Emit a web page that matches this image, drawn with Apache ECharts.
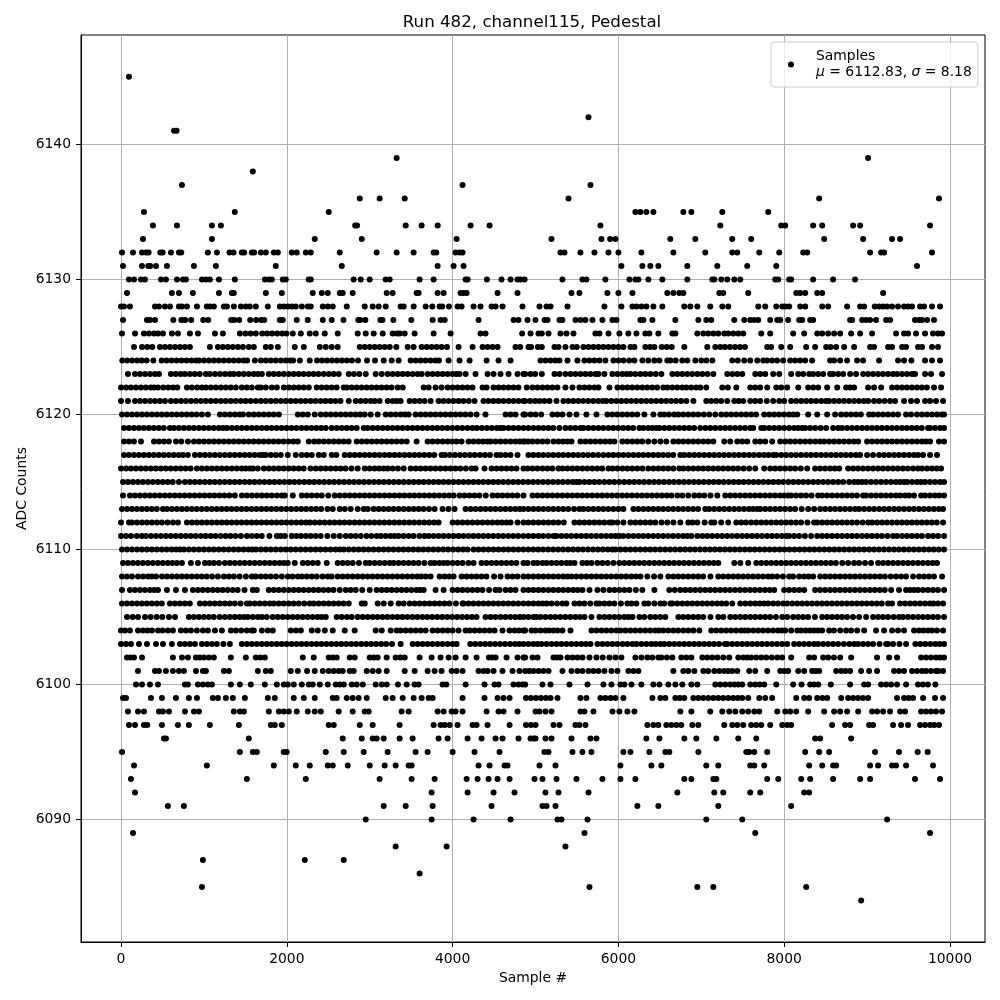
<!DOCTYPE html>
<html>
<head>
<meta charset="utf-8">
<title>Run 482, channel115, Pedestal</title>
<script src="https://cdn.jsdelivr.net/npm/echarts@6/dist/echarts.min.js"></script>
<style>
html,body{margin:0;padding:0;background:#fff;}
#chart{width:1000px;height:1000px;}
</style>
</head>
<body>
<div id="chart"></div>
<script>
var xTicks = [0,2000,4000,6000,8000,10000];
var yTicks = [6090,6100,6110,6120,6130,6140];

// sample numbers, one list per ADC level
var at6145 = [96];
var at6142 = [5639];
var at6141 = [640,670];
var at6139 = [3325,9012];
var at6138 = [1590];
var at6137 = [735,4120,5663];
var at6136 = [2880,3120,3422,5398,8422,9867];
var at6135 = [277,1373,2506,6205,6265,6337,6422,6783,6880,7253,7807];
var at6134 = [385,675,1096,1205,2825,2848,3434,3626,3820,4217,4446,5783,7229,7964,8012,8349,8458,8831,8916,9759];
var at6133 = [265,1096,2337,2904,4048,5193,5795,5900,5964,6626,6928,7373,7602,8482,8952,9301,9398];
var at6132 = [12,145,253,301,333,474,502,602,699,727,1048,1157,1309,1357,1458,1486,1578,1606,1687,1747,1843,1892,2060,2120,2229,2289,2639,3084,3325,3530,3771,3803,4036,4084,4120,5301,5349,5542,5711,5880,6000,6277,6663,7048,7373,7434,7699,7940,8229,8277,9036,9169,9205,9783];
var at6131 = [24,253,329,353,422,554,880,1145,1867,2663,3819,4012,4132,6036,6289,6385,6482,6831,7193,7554,7904,9602];
var at6130 = [96,157,241,289,482,542,675,747,783,976,1024,1072,1181,1373,1735,1783,1819,1952,1988,2265,2289,2807,2892,3000,3193,3241,3602,3771,4157,4181,4414,4590,4699,4783,4819,4868,5325,5566,5614,5843,6133,6205,6241,6361,6530,6831,7133,7157,7241,7313,7398,7470,7892,7928,8060,8084,8349,8590,8855];
var at6129 = [72,614,699,867,1181,1337,1361,1747,1940,2313,2422,2494,2639,2675,2795,3205,3277,3566,3590,3819,3892,4096,4132,4169,4542,4783,5434,5530,5867,6000,6169,6590,6663,6735,6783,7217,7265,7566,8145,8193,8253,8398,8458,9193];
var at6128 = [0,36,108,410,458,530,590,699,735,795,916,1036,1072,1120,1241,1277,1361,1446,1506,1554,1626,1771,1916,1964,2012,2060,2108,2181,2253,2289,2434,2494,2554,2723,2940,3036,3108,3193,3373,3410,3530,3675,3755,3843,3875,3956,4060,4108,4253,4337,4470,4518,4602,4843,5048,5133,5181,5386,5831,6036,6169,6217,6277,6337,6422,6530,6795,6867,6952,7108,7253,7325,7687,7771,7904,7976,8012,8060,8193,8253,8458,8530,8759,8916,8964,9092,9145,9193,9241,9301,9373,9446,9494,9542,9639,9687,9783,9880];
var at6127 = [24,313,349,410,631,727,775,847,992,1052,1329,1365,1426,1558,1630,1690,1727,1916,1952,2120,2253,2434,2542,2683,2863,2887,2948,3129,3153,3285,3502,3759,3855,3904,4313,4735,4795,4904,5000,5108,5145,5289,5325,5482,5542,5602,5687,5807,5928,5976,6265,6301,6410,6687,6964,7060,7120,7398,7518,7590,7639,7687,7831,7916,7952,8048,8181,8217,8313,8349,8795,8819,8940,8988,9036,9108,9229,9277,9578,9627,9663,9723,9807];
var at6126 = [12,169,277,337,398,446,506,614,687,831,928,1133,1229,1434,1502,1562,1626,1703,1763,1823,1884,1944,1996,2072,2169,2277,2349,2458,2614,2855,2952,3048,3157,3277,3329,3361,3422,3542,3771,3976,4337,4397,4839,4940,5036,5076,5157,5301,5373,5458,5723,5771,5880,6012,6120,6217,6325,6373,6482,6651,6687,6952,7024,7084,7145,7205,7277,7325,7386,7446,7506,7723,7831,8108,8241,8398,8458,8530,8602,8675,8807,8916,9060,9349,9446,9494,9590,9699,9795,9855,9904];
var at6125 = [157,253,317,378,470,530,590,651,711,771,831,1072,1169,1229,1289,1349,1410,1470,1542,1602,1747,1807,1892,2096,2205,2398,2470,2542,2614,2880,2940,3000,3060,3120,3181,3241,3321,3458,3530,3626,3687,3747,3807,3867,3932,4072,4241,4361,4422,4482,4542,4759,4815,4915,4947,5028,5076,5229,5277,5361,5446,5498,5578,5639,5699,5759,5819,5880,5940,6000,6060,6145,6193,6325,6382,6434,6522,6582,6643,6795,7072,7169,7229,7285,7345,7406,7466,7526,7795,7843,7964,8072,8265,8373,8506,8558,8626,8723,8843,9036,9084,9253,9301,9422,9470,9614,9663,9783,9855];
var at6124 = [16,75,135,195,250,309,390,490,550,610,670,730,790,850,905,940,1000,1060,1120,1180,1240,1300,1360,1420,1480,1522,1614,1687,1747,1807,1867,1927,1987,2040,2076,2157,2277,2365,2425,2485,2545,2605,2665,2725,2785,2859,2968,3064,3169,3265,3349,3494,3554,3614,3674,3734,3794,3835,3952,4084,4205,4410,4554,4699,5060,5120,5180,5240,5289,5386,5506,5590,5650,5710,5771,5843,5940,6000,6060,6130,6193,6289,6361,6434,6494,6590,6627,6690,6770,6831,6928,7000,7060,7133,7373,7440,7518,7590,7675,7747,7795,7855,7915,7988,8072,8132,8192,8252,8337,8554,8602,8675,8759,8880,8952,9145,9373,9446,9534,9699,9783,9880];
var at6123 = [84,169,230,290,350,410,458,602,660,720,771,831,890,950,1024,1072,1135,1195,1255,1313,1361,1421,1481,1541,1601,1650,1699,1783,1843,1903,1963,2023,2083,2143,2203,2263,2323,2383,2446,2506,2566,2626,2747,2810,2875,2952,3072,3145,3217,3277,3337,3397,3457,3517,3577,3626,3699,3759,3819,3879,3939,3999,4045,4084,4157,4277,4422,4494,4578,4675,4783,4855,4875,4940,4996,5076,5229,5290,5361,5422,5482,5542,5602,5662,5722,5759,5831,5928,5988,6048,6100,6145,6205,6265,6325,6385,6450,6518,6651,6711,6771,6831,6890,6952,7012,7075,7145,7313,7375,7434,7494,7651,7711,7771,7867,7940,8084,8169,8230,8301,8349,8410,8470,8554,8590,8651,8711,8795,8867,8952,9012,9072,9132,9192,9252,9313,9361,9421,9481,9541,9578,9699,9771,9904];
var at6122 = [0,60,120,180,240,300,360,398,446,510,570,628,679,795,855,920,976,1024,1084,1144,1204,1264,1324,1385,1458,1518,1578,1651,1687,1747,1819,1880,1964,2024,2084,2144,2204,2265,2361,2421,2481,2541,2601,2687,2723,2783,2843,2903,2963,3023,3083,3143,3203,3263,3337,3398,3651,3711,3795,3867,3940,4000,4060,4120,4180,4240,4361,4410,4494,4554,4614,4674,4734,4794,4895,4964,5024,5084,5144,5204,5264,5361,5446,5530,5590,5650,5711,5759,5892,5988,6048,6108,6168,6228,6288,6348,6408,6468,6542,6590,6650,6710,6771,6819,6879,6939,6988,7060,7253,7320,7422,7590,7650,7710,7795,7904,7964,8036,8169,8289,8350,8410,8518,8639,8747,8795,8843,9012,9084,9169,9301,9361,9421,9481,9541,9601,9661,9721,9807,9892];
var at6121 = [0,84,169,230,290,350,410,470,530,602,663,723,783,843,903,963,1023,1083,1143,1203,1263,1323,1383,1443,1503,1563,1626,1687,1747,1807,1867,1927,1987,2047,2107,2167,2227,2287,2347,2407,2467,2527,2587,2647,2747,2831,2891,2951,3011,3060,3120,3217,3277,3325,3373,3482,3542,3602,3662,3735,3831,3891,3951,4011,4071,4131,4195,4265,4373,4433,4493,4553,4613,4675,4735,4795,4855,4875,4935,4995,5048,5108,5169,5253,5337,5397,5457,5517,5577,5637,5697,5757,5810,5855,5916,5976,6036,6096,6156,6216,6276,6336,6396,6456,6516,6576,6636,6696,6756,6819,6904,7060,7120,7180,7240,7313,7398,7450,7506,7590,7650,7710,7790,7867,7940,8000,8084,8145,8205,8265,8325,8385,8445,8500,8542,8602,8662,8722,8782,8842,8902,8962,9012,9084,9144,9210,9277,9337,9446,9530,9602,9699,9759,9831,9916];
var at6120 = [12,72,132,192,252,312,372,432,492,552,612,672,732,792,852,912,976,1048,1193,1253,1313,1373,1430,1470,1542,1602,1662,1722,1782,1842,1904,2133,2193,2253,2337,2410,2470,2530,2590,2650,2710,2770,2830,2885,2940,3012,3096,3193,3253,3313,3373,3425,3470,3554,3614,3674,3734,3794,3854,3914,3974,4034,4094,4154,4217,4289,4397,4639,4699,4759,4855,4875,4940,5000,5068,5205,5265,5325,5410,5494,5614,5735,5867,5927,5987,6047,6107,6167,6227,6313,6422,6506,6554,6610,6675,6723,6783,6843,6903,6963,7030,7096,7169,7241,7301,7361,7421,7481,7541,7601,7661,7759,7819,7879,7939,7999,8059,8110,8157,8289,8398,8518,8614,8687,8747,8807,8867,8924,9024,9072,9132,9192,9252,9312,9373,9470,9530,9602,9663,9723,9783,9843,9900,9928];
var at6119 = [36,96,156,216,276,336,396,456,516,590,639,699,759,819,879,939,999,1059,1119,1179,1230,1277,1337,1397,1457,1517,1577,1637,1697,1757,1817,1877,1937,1997,2057,2117,2177,2237,2297,2357,2415,2470,2542,2602,2662,2722,2782,2843,2928,2976,3036,3096,3156,3216,3276,3336,3396,3456,3516,3576,3636,3696,3756,3816,3876,3936,3996,4056,4116,4180,4241,4293,4353,4413,4473,4533,4578,4614,4674,4734,4794,4855,4915,4975,5035,5095,5155,5215,5289,5361,5421,5480,5542,5578,5638,5698,5758,5818,5878,5938,5998,6058,6118,6178,6253,6301,6361,6410,6458,6494,6554,6614,6674,6734,6794,6854,6914,6988,7048,7108,7168,7228,7288,7348,7408,7468,7528,7590,7626,7723,7759,7819,7879,7939,7999,8059,8120,8170,8217,8253,8313,8373,8440,8506,8590,8651,8699,8759,8819,8879,8939,8999,9059,9119,9179,9239,9299,9359,9419,9479,9539,9599,9659,9735,9759,9819,9880,9928];
var at6118 = [36,96,156,241,398,458,518,578,663,727,807,880,940,1000,1060,1120,1180,1240,1300,1360,1420,1480,1540,1600,1660,1720,1780,1840,1900,1960,2020,2080,2133,2265,2330,2385,2446,2506,2566,2626,2686,2746,2843,2904,2964,3024,3084,3144,3204,3264,3324,3385,3446,3566,3699,3759,3819,3879,3939,3995,4048,4108,4193,4253,4313,4370,4422,4458,4518,4578,4638,4698,4758,4810,4855,4875,4915,4964,5024,5084,5145,5217,5277,5335,5386,5434,5542,5602,5662,5722,5782,5842,5900,5952,6048,6108,6168,6228,6288,6360,6434,6506,6578,6663,6723,6783,6843,6903,6963,7025,7084,7145,7277,7349,7434,7494,7554,7651,7711,7771,7855,7952,8012,8072,8132,8193,8253,8313,8375,8434,8482,8542,8602,8662,8722,8782,8840,8892,9000,9060,9120,9180,9240,9300,9360,9420,9480,9540,9600,9660,9710,9759,9867,9928];
var at6117 = [36,96,156,216,276,336,396,456,516,576,636,696,747,807,892,952,1012,1072,1132,1192,1252,1312,1372,1432,1492,1552,1612,1672,1711,1747,1807,1867,1927,2012,2108,2181,2241,2301,2385,2446,2542,2598,2699,2759,2819,2879,2939,2999,3059,3119,3179,3239,3299,3359,3419,3479,3539,3599,3659,3719,3779,3867,3908,3968,4028,4088,4148,4208,4268,4330,4390,4450,4530,4578,4638,4698,4783,4915,4975,5035,5095,5155,5215,5275,5335,5395,5455,5515,5575,5635,5695,5755,5819,5880,5940,6000,6060,6120,6181,6241,6301,6361,6421,6481,6541,6601,6661,6747,6795,6855,6915,6975,7035,7095,7155,7215,7275,7335,7395,7455,7515,7575,7635,7695,7755,7810,7867,7904,7964,8024,8084,8144,8204,8264,8324,8384,8444,8504,8564,8624,8684,8744,8804,8864,8916,9000,9072,9145,9205,9265,9325,9385,9445,9505,9565,9615,9675,9759,9843];
var at6116 = [0,60,120,180,240,300,360,420,480,540,600,660,720,780,840,916,976,1036,1096,1156,1216,1276,1336,1396,1456,1505,1554,1590,1650,1723,1783,1843,1903,1963,2023,2083,2143,2203,2285,2349,2409,2469,2529,2589,2649,2709,2780,2855,2940,3000,3060,3115,3169,3217,3277,3340,3410,3494,3554,3614,3674,3734,3794,3854,3914,3974,4034,4094,4160,4229,4277,4385,4470,4530,4590,4650,4710,4770,4855,4904,4964,5024,5084,5144,5204,5277,5325,5385,5445,5505,5565,5625,5685,5745,5805,5880,5928,5988,6048,6108,6168,6228,6290,6361,6422,6482,6542,6600,6663,6735,6783,6843,6903,6963,7023,7083,7143,7203,7263,7323,7383,7443,7510,7578,7651,7759,7831,7891,7951,8011,8071,8131,8200,8277,8373,8433,8493,8553,8610,8663,8771,8831,8891,8951,9011,9071,9131,9191,9251,9311,9371,9431,9490,9554,9614,9663,9723,9783,9840,9892];
var at6115 = [24,84,144,204,264,324,384,444,504,564,624,699,771,831,891,951,1011,1071,1131,1191,1251,1311,1371,1431,1491,1551,1611,1671,1731,1791,1851,1911,1971,2031,2091,2151,2211,2271,2331,2391,2451,2511,2571,2631,2691,2751,2811,2871,2931,2991,3051,3111,3171,3231,3291,3351,3411,3471,3531,3591,3651,3711,3771,3831,3891,3951,4011,4071,4131,4191,4251,4311,4371,4431,4491,4551,4611,4671,4731,4791,4851,4911,4971,5031,5091,5151,5211,5271,5331,5391,5450,5494,5530,5590,5650,5710,5770,5830,5890,5950,6010,6070,6130,6190,6250,6310,6370,6430,6490,6550,6610,6670,6730,6790,6850,6910,6970,7030,7090,7150,7210,7270,7330,7390,7450,7510,7570,7630,7690,7750,7810,7870,7930,7990,8050,8110,8170,8230,8290,8350,8410,8470,8530,8590,8650,8711,8783,8843,8890,8940,8988,9048,9108,9168,9228,9288,9348,9400,9446,9482,9542,9602,9650,9699,9759,9819,9879,9928];
var at6114 = [24,108,168,228,288,348,408,468,528,588,648,708,768,828,888,948,1008,1068,1128,1188,1248,1308,1373,1458,1518,1578,1638,1698,1758,1818,1880,1940,1976,2072,2181,2241,2301,2361,2421,2500,2578,2639,2699,2759,2819,2879,2939,2999,3059,3119,3179,3239,3299,3359,3419,3479,3539,3599,3659,3719,3779,3839,3899,3959,4012,4084,4144,4204,4264,4324,4400,4482,4542,4602,4662,4722,4782,4855,4964,5024,5084,5144,5204,5264,5324,5384,5444,5504,5564,5624,5684,5744,5804,5864,5924,5984,6044,6104,6164,6224,6284,6344,6404,6464,6524,6584,6640,6711,6771,6843,6916,6976,7036,7110,7193,7289,7349,7409,7469,7529,7589,7649,7709,7769,7829,7889,7949,8000,8048,8084,8144,8204,8264,8330,8410,8458,8518,8578,8638,8698,8758,8818,8878,8952,8988,9048,9108,9168,9228,9288,9348,9400,9458,9506,9566,9651,9699,9759,9819,9870,9928];
var at6113 = [12,72,132,192,252,312,372,432,506,554,614,674,734,794,854,914,974,1034,1094,1154,1214,1274,1334,1394,1454,1514,1574,1634,1694,1754,1814,1874,1934,1994,2054,2114,2174,2234,2294,2354,2414,2490,2554,2639,2699,2770,2855,2928,2976,3048,3108,3168,3228,3288,3350,3410,3470,3530,3590,3650,3715,3783,3879,3950,4024,4157,4217,4277,4337,4397,4457,4517,4577,4637,4697,4757,4810,4855,4915,4975,5035,5095,5155,5215,5275,5335,5395,5465,5530,5578,5638,5698,5758,5818,5878,5940,6000,6060,6181,6241,6301,6361,6421,6481,6541,6601,6661,6721,6781,6841,6901,6961,7048,7096,7156,7216,7276,7336,7396,7456,7516,7576,7625,7675,7711,7771,7831,7891,7951,8011,8071,8131,8210,8289,8361,8434,8494,8554,8614,8674,8734,8794,8855,8904,8964,9024,9084,9145,9205,9265,9325,9385,9445,9505,9565,9625,9685,9745,9805,9865,9916];
var at6112 = [0,96,133,193,253,313,373,433,493,560,626,687,795,855,915,975,1035,1095,1155,1215,1275,1335,1395,1455,1515,1575,1635,1695,1755,1815,1875,1935,1995,2055,2115,2175,2230,2277,2337,2397,2457,2517,2577,2637,2697,2757,2817,2877,2937,2997,3057,3117,3177,3237,3297,3357,3417,3477,3537,3597,3657,3717,3777,3831,4000,4060,4120,4180,4240,4300,4360,4420,4480,4540,4595,4650,4699,4783,4855,4915,4975,5035,5095,5155,5215,5275,5341,5470,5530,5590,5650,5710,5770,5830,5892,5928,5988,6060,6145,6205,6265,6325,6385,6445,6520,6590,6663,6747,6843,6892,6952,7040,7120,7157,7240,7325,7422,7482,7540,7602,7663,7723,7783,7843,7903,7963,8023,8083,8143,8203,8280,8361,8398,8458,8518,8578,8638,8698,8758,8818,8878,8945,9012,9060,9120,9180,9240,9300,9360,9420,9480,9540,9600,9660,9720,9780,9840,9916];
var at6111 = [0,60,120,190,253,301,361,421,481,541,601,661,721,781,841,901,961,1021,1081,1141,1201,1261,1321,1381,1446,1518,1578,1638,1698,1790,1880,1928,1976,2060,2115,2169,2229,2289,2349,2409,2490,2566,2639,2711,2771,2831,2891,2960,3020,3084,3133,3193,3250,3301,3349,3409,3469,3529,3600,3660,3711,3771,3831,3891,3951,4011,4071,4131,4191,4251,4311,4371,4431,4491,4551,4611,4671,4731,4791,4855,4915,4975,5035,5095,5155,5217,5253,5313,5373,5433,5493,5553,5613,5673,5733,5793,5853,5913,5965,6012,6060,6120,6180,6240,6300,6360,6420,6480,6540,6600,6660,6720,6780,6830,6880,6952,7012,7072,7132,7192,7252,7312,7372,7432,7492,7552,7612,7672,7732,7792,7852,7912,7970,8024,8060,8120,8180,8250,8325,8398,8458,8518,8578,8638,8698,8758,8818,8878,8938,8998,9058,9118,9178,9245,9313,9361,9421,9481,9541,9601,9661,9735,9795,9855,9928];
var at6110 = [12,72,132,192,252,312,372,432,492,552,612,665,711,759,819,879,939,999,1059,1119,1179,1239,1299,1359,1419,1479,1539,1585,1627,1687,1747,1807,1867,1927,1987,2047,2107,2167,2227,2287,2347,2407,2467,2527,2587,2639,2687,2747,2807,2867,2927,2987,3047,3107,3167,3227,3287,3347,3407,3467,3527,3587,3647,3707,3767,3827,3887,3947,4007,4067,4127,4181,4253,4313,4373,4433,4493,4553,4613,4673,4733,4793,4853,4913,4973,5033,5093,5153,5213,5273,5333,5393,5453,5513,5573,5633,5693,5753,5813,5873,5928,5964,6024,6084,6144,6204,6264,6324,6384,6444,6504,6564,6624,6684,6744,6804,6864,6924,6984,7044,7104,7164,7224,7284,7344,7404,7464,7524,7584,7644,7704,7764,7824,7884,7944,8004,8064,8124,8184,8244,8304,8364,8424,8484,8544,8604,8664,8724,8784,8844,8904,8964,9024,9084,9144,9204,9264,9324,9384,9444,9504,9564,9624,9684,9744,9804,9864,9928];
var at6109 = [24,84,144,204,264,324,384,444,504,564,620,675,735,843,928,1012,1065,1120,1181,1253,1313,1373,1433,1493,1553,1613,1673,1733,1793,1853,1913,1965,2012,2096,2193,2253,2313,2373,2482,2614,2674,2734,2794,2870,2952,3000,3060,3120,3180,3241,3289,3349,3409,3469,3529,3589,3660,3735,3783,3840,3892,3940,4000,4060,4120,4190,4253,4349,4409,4469,4529,4589,4649,4709,4769,4855,4904,4976,5024,5084,5133,5193,5253,5313,5373,5420,5470,5566,5620,5675,5747,5807,5870,5940,6012,6072,6132,6192,6252,6312,6372,6432,6492,6552,6612,6672,6732,6792,6852,6912,6972,7032,7092,7150,7205,7398,7470,7566,7663,7723,7783,7843,7903,7963,8023,8083,8143,8203,8263,8323,8383,8443,8503,8563,8623,8700,8771,8843,8903,8975,9048,9133,9193,9253,9313,9373,9433,9493,9553,9613,9673,9733,9790,9843];
var at6108 = [12,72,132,205,265,325,370,422,494,554,614,674,734,794,854,914,974,1034,1100,1169,1241,1301,1361,1430,1506,1578,1626,1686,1746,1806,1870,1940,2012,2070,2133,2181,2241,2301,2361,2430,2494,2542,2614,2674,2734,2794,2854,2914,2974,3034,3094,3154,3214,3274,3334,3394,3454,3514,3574,3620,3675,3735,3843,3903,3960,4012,4108,4168,4228,4288,4348,4408,4500,4578,4663,4723,4783,4855,4915,4975,5035,5095,5155,5215,5275,5335,5385,5434,5494,5554,5614,5674,5734,5794,5854,5914,5974,6034,6094,6154,6210,6265,6349,6430,6506,6602,6662,6722,6782,6842,6902,6962,7022,7110,7205,7265,7325,7385,7445,7505,7565,7625,7685,7745,7807,7855,7915,7985,8060,8108,8181,8241,8295,8349,8434,8494,8554,8614,8674,8734,8794,8854,8914,8974,9034,9094,9154,9214,9285,9349,9410,9470,9554,9627,9687,9745,9807,9904];
var at6107 = [12,108,168,228,288,348,400,446,554,663,771,867,927,987,1047,1107,1167,1227,1287,1347,1407,1490,1590,1638,1783,1843,1903,1963,2023,2083,2143,2203,2263,2323,2383,2443,2503,2563,2639,2711,2771,2831,2910,3000,3084,3144,3204,3264,3324,3384,3444,3504,3564,3610,3651,3795,3892,4000,4060,4120,4180,4240,4300,4360,4440,4518,4566,4639,4699,4759,4855,4915,4975,5035,5095,5155,5215,5275,5335,5395,5455,5510,5566,5651,5747,5819,5892,5952,6012,6072,6132,6210,6289,6434,6614,6680,6747,6807,6867,6927,6987,7047,7107,7167,7227,7287,7347,7407,7467,7527,7587,7647,7707,7767,7825,7880,8000,8060,8120,8180,8241,8373,8433,8493,8553,8613,8673,8733,8793,8853,8913,8973,9033,9093,9153,9213,9290,9385,9470,9518,9566,9614,9674,9734,9794,9854,9928];
var at6106 = [12,72,132,192,252,312,372,432,492,590,650,710,770,830,952,1012,1072,1132,1192,1252,1312,1372,1442,1518,1554,1614,1674,1735,1795,1843,1903,1963,2023,2083,2143,2210,2277,2325,2385,2445,2505,2565,2625,2685,2747,2904,2940,3096,3169,3253,3349,3410,3482,3542,3602,3662,3722,3782,3842,3902,3962,4040,4120,4132,4192,4252,4312,4372,4432,4492,4552,4612,4672,4732,4792,4855,4915,4975,5035,5085,5133,5193,5260,5325,5373,5470,5530,5590,5660,5735,5771,5831,5891,5951,6030,6108,6157,6217,6313,6361,6434,6506,6554,6627,6651,6711,6771,6831,6891,6951,7011,7071,7131,7191,7245,7301,7373,7470,7530,7590,7650,7705,7759,7807,7867,7925,7988,8036,8096,8156,8216,8276,8336,8396,8456,8516,8576,8636,8696,8756,8816,8876,8936,8996,9056,9116,9176,9253,9301,9398,9458,9518,9578,9638,9698,9758,9800,9855,9916];
var at6105 = [72,140,205,289,357,430,498,578,651,819,879,939,999,1059,1119,1190,1253,1313,1373,1430,1482,1530,1590,1650,1700,1759,1831,1891,1951,2011,2071,2131,2191,2251,2311,2371,2420,2470,2602,2662,2725,2783,2855,2915,2975,3035,3095,3155,3215,3275,3335,3395,3455,3515,3575,3635,3695,3755,3815,3875,3935,3995,4055,4115,4175,4235,4289,4397,4457,4517,4577,4637,4697,4757,4810,4855,4915,4975,5011,5060,5120,5180,5240,5300,5360,5420,5480,5535,5590,5675,5771,5831,5891,5951,6011,6071,6120,6169,6253,6313,6385,6445,6505,6566,6723,6783,6843,6903,6963,7023,7110,7205,7265,7349,7410,7470,7530,7590,7650,7710,7770,7830,7900,7976,8036,8108,8168,8228,8288,8370,8458,8518,8578,8638,8698,8758,8830,8904,8988,9072,9132,9192,9252,9320,9385,9434,9494,9554,9614,9674,9734,9794,9854,9928];
var at6104 = [0,48,108,205,265,320,373,446,500,566,626,723,783,843,915,988,1048,1133,1217,1325,1385,1450,1518,1578,1602,1699,1771,1831,2048,2110,2169,2301,2373,2458,2554,2699,2819,3072,3145,3253,3325,3373,3434,3494,3555,3614,3675,3759,3819,3880,3940,4000,4072,4157,4205,4265,4325,4385,4446,4506,4602,4687,4747,4800,4855,4875,4952,5000,5060,5120,5165,5217,5265,5325,5422,5675,5735,5795,5855,5915,5976,6024,6084,6144,6204,6264,6324,6384,6444,6490,6542,6602,6662,6720,6783,6843,6905,6976,7120,7180,7240,7300,7360,7420,7480,7525,7566,7626,7686,7746,7806,7866,7926,7970,8012,8084,8157,8205,8260,8313,8361,8410,8458,8542,8600,8675,8747,8807,8880,8964,9108,9205,9301,9373,9446,9566,9626,9680,9735,9783,9843,9916];
var at6103 = [0,60,120,217,313,422,506,614,711,771,830,892,976,1036,1096,1156,1235,1313,1458,1518,1578,1638,1698,1758,1818,1878,1938,1998,2058,2118,2178,2238,2298,2358,2418,2478,2538,2598,2658,2718,2778,2838,2898,2958,3018,3078,3138,3198,3269,3373,3518,3578,3638,3698,3758,3818,3878,3938,4000,4048,4213,4273,4333,4393,4453,4513,4573,4633,4693,4753,4805,4855,4915,4975,5025,5072,5133,5193,5253,5313,5373,5433,5493,5553,5610,5663,5747,5807,5867,5927,5987,6050,6108,6169,6217,6277,6337,6397,6450,6506,6554,6614,6674,6734,6794,6854,6914,6974,7034,7094,7154,7214,7285,7313,7373,7433,7493,7553,7613,7673,7733,7793,7853,7913,7975,8036,8120,8180,8240,8300,8361,8410,8470,8530,8590,8650,8720,8785,8843,8892,8952,9012,9072,9150,9229,9253,9313,9390,9470,9582,9642,9702,9762,9822,9875,9928];
var at6102 = [72,115,157,253,626,735,807,904,950,1000,1060,1120,1325,1506,1626,1680,1735,2193,2325,2506,2555,2602,2759,2819,3000,3050,3096,3205,3313,3370,3422,3602,3747,3855,3952,4036,4157,4289,4438,4480,4518,4651,4783,4855,4875,4964,5024,5217,5260,5301,5386,5446,5506,5566,5651,5735,5810,5892,5964,6036,6205,6277,6349,6410,6482,6518,6585,6651,6759,6820,6880,7012,7072,7132,7195,7265,7337,7446,7506,7555,7602,7663,7723,7783,7850,7916,7976,8084,8301,8361,8470,8530,8600,8675,8807,9120,9265,9361,9651,9711,9770,9831,9880,9928];
var at6101 = [205,410,458,542,626,699,759,904,988,1024,1241,1301,1651,1747,1807,2048,2133,2245,2337,2434,2506,2566,2626,2675,2759,2807,2964,3036,3108,3205,3422,3542,3699,3783,3867,3988,4048,4120,4313,4373,4422,4494,4602,4723,4807,4875,4925,4975,5036,5096,5157,5325,5434,5506,5566,5639,5699,5759,5831,5916,5988,6120,6181,6241,6663,6783,6843,6916,7024,7084,7157,7217,7277,7325,7373,7434,7578,7651,7795,7952,8000,8048,8169,8241,8337,8380,8422,8627,8687,8740,8795,8928,9024,9120,9325,9385,9446,9542,9602,9663,9711,9771,9831,9860,9916];
var at6100 = [181,253,349,446,771,807,928,988,1048,1096,1325,1434,1566,1735,1880,1964,2012,2084,2181,2265,2313,2398,2494,2590,2639,2687,2783,2843,2916,3072,3145,3205,3341,3446,3542,3590,3879,3924,4157,4385,4506,4554,4735,4795,4843,4875,5084,5181,5410,5627,5819,5916,6024,6072,6157,6277,6422,6494,6602,6687,6771,6880,6952,7169,7229,7289,7349,7400,7446,7494,7590,7650,7705,7759,7904,8108,8209,8313,8360,8410,8562,8795,8964,9012,9169,9229,9289,9361,9470,9614,9674,9734,9823];
var at6099 = [24,60,361,494,663,819,916,1108,1169,1265,1349,1494,1771,1855,2084,2205,2337,2554,2602,2723,2795,2867,2964,3193,3277,3398,3530,3626,3711,3759,4120,4385,4542,4614,4687,4885,4945,5005,5065,5125,5181,5265,5542,5614,5783,5843,5905,5964,6060,6410,6506,6566,6687,6740,6795,6904,6964,7024,7084,7144,7204,7264,7324,7384,7440,7494,7566,7699,7771,7855,8145,8241,8301,8398,8460,8518,8687,8771,8831,8891,8950,9012,9361,9446,9500,9554,9675,9819,9916];
var at6098 = [84,205,277,458,506,578,771,880,940,1361,1434,1482,1783,1904,1964,2024,2120,2253,2337,2410,2626,2795,2940,2988,3385,3470,3819,3892,3988,4036,4120,4410,4554,4614,4783,5000,5048,5120,5193,5542,5590,5699,5928,6012,6108,6193,6747,6880,7108,7253,7337,7410,7494,7566,7639,7699,7916,8012,8072,8145,8289,8482,8602,8675,8759,8892,9060,9120,9193,9277,9398,9458,9651,9711,9771,9831,9904];
var at6097 = [96,169,277,317,494,687,819,1072,1422,1807,1855,1940,2506,2566,2880,3036,3361,3771,3855,3904,3964,4060,4241,4289,4422,4687,4885,4945,5000,5217,5289,5482,5530,5602,6349,6422,6482,6578,6638,6699,6759,6892,6964,7277,7373,7434,7506,7602,7662,7723,7831,7976,8036,8084,8578,8735,8795,9024,9072,9313,9410,9494,9639,9699,9759,9810,9867];
var at6096 = [518,542,1542,2675,2904,3036,3084,3169,3361,3518,3831,3940,4181,4349,4518,4602,4795,4940,4976,5000,5120,5193,5434,5663,5735,6337,6494,6795,6940,7181,7446,7663,8373,8434,8807];
var at6095 = [12,1434,1590,1638,1964,2000,2470,2687,2928,3217,3554,3699,4000,4265,4566,5108,5157,5446,5566,5675,6060,6145,6373,6566,6614,6964,7542,7578,7639,7795,8253,8422,8542,9096,9385,9610,9731];
var at6094 = [157,1036,1843,2108,2277,2494,2554,2735,3000,3181,3313,3470,3506,4313,4446,4627,4663,5048,5241,6024,6398,6518,7060,7205,7590,7639,7759,8301,8458,8590,8627,9036,9133,9301,9349,9470,9795];
var at6093 = [120,1518,2229,3120,3506,3783,4169,4301,4434,4542,4687,4988,5084,5253,5494,5807,6024,6205,6795,6880,7145,7181,7795,7928,8205,8313,8590,8916,9036,9578,9880];
var at6092 = [169,3747,4181,4494,4747,5120,5277,5639,6711,7157,7265,7590,7711,8241,8301];
var at6091 = [566,759,3169,3434,3759,4470,5084,5133,5241,6229,6482,7205,8084];
var at6090 = [2952,3747,4253,4699,5265,5313,5627,7060,7494,9241];
var at6089 = [145,5590,7651,9759];
var at6088 = [3313,3928,5361];
var at6087 = [988,2217,2687];
var at6086 = [3602];
var at6085 = [976,5651,6952,7145,8265];
var at6084 = [8928];

var levels = [6145,6142,6141,6139,6138,6137,6136,6135,6134,6133,6132,6131,6130,6129,6128,6127,6126,6125,6124,6123,6122,6121,6120,6119,6118,6117,6116,6115,6114,6113,6112,6111,6110,6109,6108,6107,6106,6105,6104,6103,6102,6101,6100,6099,6098,6097,6096,6095,6094,6093,6092,6091,6090,6089,6088,6087,6086,6085,6084];
var sampleLists = [at6145,at6142,at6141,at6139,at6138,at6137,at6136,at6135,at6134,at6133,at6132,at6131,at6130,at6129,at6128,at6127,at6126,at6125,at6124,at6123,at6122,at6121,at6120,at6119,at6118,at6117,at6116,at6115,at6114,at6113,at6112,at6111,at6110,at6109,at6108,at6107,at6106,at6105,at6104,at6103,at6102,at6101,at6100,at6099,at6098,at6097,at6096,at6095,at6094,at6093,at6092,at6091,at6090,at6089,at6088,at6087,at6086,at6085,at6084];

var points = [];
for(var i=0; i<levels.length; i++){
    for(var j=0; j<sampleLists[i].length; j++){
        points.push([sampleLists[i][j], levels[i]]);
    }
}

// plain numbers, no thousands separator
function plainLabel(v){
    return String(v);
}

var fontName = '"DejaVu Sans"';
var chart = echarts.init(document.getElementById('chart'));
chart.setOption({
    animation: false,
    backgroundColor: '#fff',
    textStyle: {fontFamily: fontName, color: '#000'},
    title: {
        text: 'Run 482, channel115, Pedestal',
        left: 527,
        top: 9,
        textAlign: 'center',
        textStyle: {fontFamily: fontName, fontSize: 16.67, fontWeight: 'normal', color: '#000'}
    },
    grid: {left: 81, top: 35, width: 904, height: 907, show: true, borderColor: '#000', borderWidth: 1, backgroundColor: '#fff'},
    legend: {
        left: 771,
        top: 42,
        padding: [6, 6, 6, 17],
        itemWidth: 40,
        itemHeight: 6,
        backgroundColor: 'rgba(255,255,255,0.8)',
        borderColor: '#ccc',
        borderWidth: 1,
        borderRadius: 3,
        icon: 'circle',
        data: ['Samples'],
        formatter: function(){
            return 'Samples\n{i|\u03bc} = 6112.83, {i|\u03c3} = 8.18';
        },
        textStyle: {
            fontFamily: fontName,
            fontSize: 13.9,
            lineHeight: 16.5,
            color: '#000',
            rich: {i: {fontStyle: 'italic', fontFamily: fontName, fontSize: 13.9, lineHeight: 16.5}}
        }
    },
    xAxis: {
        type: 'value',
        min: -482.5,
        max: 10422,
        name: 'Sample #',
        nameLocation: 'middle',
        nameGap: 29,
        nameTextStyle: {fontFamily: fontName, fontSize: 13.9, color: '#000'},
        axisLine: {show: true, onZero: false, lineStyle: {color: '#000', width: 1}},
        axisTick: {show: true, length: 5, customValues: xTicks, lineStyle: {color: '#000', width: 1}},
        axisLabel: {margin: 10, customValues: xTicks, formatter: plainLabel, fontFamily: fontName, fontSize: 13.9, color: '#000'},
        splitLine: {show: true, lineStyle: {color: '#b0b0b0', width: 1}}
    },
    yAxis: {
        type: 'value',
        min: 6080.93,
        max: 6148.1,
        name: 'ADC Counts',
        nameLocation: 'middle',
        nameGap: 52,
        nameMoveOverlap: false,
        nameTextStyle: {fontFamily: fontName, fontSize: 13.9, color: '#000'},
        axisLine: {show: true, onZero: false, lineStyle: {color: '#000', width: 1}},
        axisTick: {show: true, length: 5, customValues: yTicks, lineStyle: {color: '#000', width: 1}},
        axisLabel: {margin: 10, customValues: yTicks, formatter: plainLabel, fontFamily: fontName, fontSize: 13.9, color: '#000'},
        splitLine: {show: true, lineStyle: {color: '#b0b0b0', width: 1}}
    },
    series: [{
        name: 'Samples',
        type: 'scatter',
        symbol: 'circle',
        symbolSize: 6,
        silent: true,
        itemStyle: {color: '#000', opacity: 1},
        data: points
    }]
});
</script>
</body>
</html>
